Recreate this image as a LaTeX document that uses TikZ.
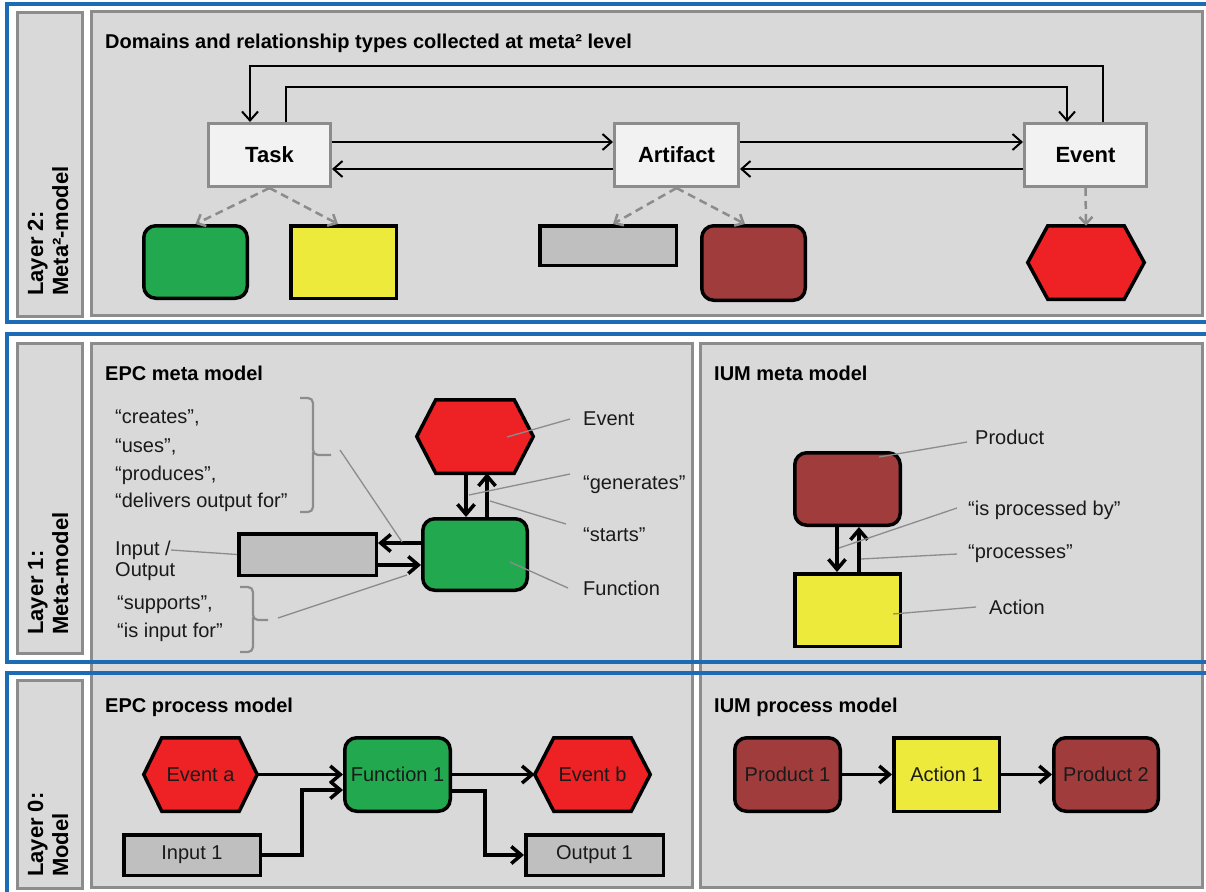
\documentclass[tikz,border=0pt]{standalone}
\usepackage{fontspec}
\setmainfont{Liberation Sans}
\usetikzlibrary{arrows.meta,calc}
\definecolor{panel}{HTML}{D9D9D9}
\definecolor{pborder}{HTML}{8C8C8C}
\definecolor{blueF}{HTML}{1E6BB5}
\definecolor{metaF}{HTML}{F2F2F2}
\definecolor{grnF}{HTML}{22A84F}
\definecolor{yelF}{HTML}{EEEA3C}
\definecolor{gryF}{HTML}{BFBFBF}
\definecolor{brnF}{HTML}{A03C3C}
\definecolor{redF}{HTML}{EE2124}
\definecolor{txt}{HTML}{1A1A1A}
\tikzset{
 lbl/.style={font=\fontsize{20}{24}\selectfont, text=txt, inner sep=0},
 lblw/.style={lbl, anchor=west},
 ttl/.style={font=\fontsize{20}{24}\selectfont\bfseries, text=black, inner sep=0, anchor=west},
 lay/.style={font=\fontsize{22}{25}\selectfont\bfseries, text=black, rotate=90, anchor=base west, inner sep=0},
 panelst/.style={fill=panel, draw=pborder, line width=3},
 bluest/.style={draw=blueF, line width=3.5},
 metabox/.style={draw=pborder, fill=metaF, line width=3, minimum width=122, minimum height=63, font=\fontsize{22}{26}\selectfont\bfseries, inner sep=0},
 shp/.style={draw=black, line width=3.5, inner sep=0, font=\fontsize{20}{24}\selectfont, text=txt},
 fnbox/.style={shp, fill=grnF, rounded corners=12},
 acbox/.style={shp, fill=yelF},
 iobox/.style={shp, fill=gryF},
 prbox/.style={shp, fill=brnF, rounded corners=12},
 hexd/.style={draw=black, line width=3.5, fill=redF, line join=miter},
 tarr/.style={draw=black, line width=2, -{Straight Barb[length=9pt,width=16pt]}},
 karr/.style={draw=black, line width=3.5, -{Straight Barb[length=10pt,width=17pt]}},
 dsh/.style={draw=pborder, line width=2.5, dash pattern=on 8pt off 5pt, -{Straight Barb[length=7pt,width=13pt]}},
 leader/.style={draw=pborder, line width=1.3},
 bracest/.style={draw=pborder, line width=2.2, rounded corners=5},
}
\newcommand\myhex[7]{%
 \node[minimum width=#4, minimum height=#5, inner sep=0, outer sep=0] (#1) at (#2,#3) {};
 \draw[hexd] (#1.west) -- ([xshift=#6pt]#1.north west) -- ([xshift=-#6pt]#1.north east) -- (#1.east) -- ([xshift=-#6pt]#1.south east) -- ([xshift=#6pt]#1.south west) -- cycle;
 \node[lbl] (#1t) at (#1.center) {#7};
}
\begin{document}
\begin{tikzpicture}[x=1pt,y=-1pt]
\useasboundingbox (0,0) rectangle (1206,891);
\clip (0,0) rectangle (1206,891);
\fill[white] (0,0) rectangle (1206,891);

% panels
\draw[panelst] (17,13) rectangle (82,316);
\draw[panelst] (17,343) rectangle (82,653);
\draw[panelst] (17,680) rectangle (82,888);
\draw[panelst] (91,12) rectangle (1202,315);
\draw[panelst] (91,343) rectangle (692,887);
\draw[panelst] (700,343) rectangle (1202,887);

% blue frames
\draw[bluest] (7,4) rectangle (1216,322);
\draw[bluest] (7,334) rectangle (1216,662);
\draw[bluest] (7,673) rectangle (1216,905);

% layer labels
\node[lay] (l2a) at (43,296) {Layer 2:};
\node[lay] (l2b) at (68,296) {Meta²-model};
\node[lay] (l1a) at (43,635) {Layer 1:};
\node[lay] (l1b) at (68,635) {Meta-model};
\node[lay] (l0a) at (43,877) {Layer 0:};
\node[lay] (l0b) at (68,877) {Model};

% ===== Layer 2 =====
\node[ttl] (t2) at (105,43) {Domains and relationship types collected at meta² level};
\node[metabox] (task) at (269.5,155) {Task};
\node[metabox, minimum width=124] (art) at (676.5,155) {Artifact};
\node[metabox] (evt) at (1085.5,155) {Event};

\coordinate (top1) at (250,66);
\coordinate (top2) at (1067,87);
\draw[tarr] ([xshift=17.5pt]evt.north) |- (top1) -- ([xshift=-19.5pt]task.north);
\draw[tarr] ([xshift=16.5pt]task.north) |- (top2) -- ([xshift=-18.5pt]evt.north);
\draw[tarr] ([yshift=13pt]task.east) -- ([yshift=13pt]art.west);
\draw[tarr] ([yshift=-14pt]art.west) -- ([yshift=-14pt]task.east);
\draw[tarr] ([yshift=13pt]art.east) -- ([yshift=13pt]evt.west);
\draw[tarr] ([yshift=-14pt]evt.west) -- ([yshift=-14pt]art.east);

\node[fnbox, minimum width=103.5, minimum height=72.5] (g2) at (195.5,262) {};
\node[acbox, minimum width=105.5, minimum height=72.5] (y2) at (343.5,262) {};
\node[iobox, minimum width=136.5, minimum height=39.5] (gr2) at (608,245.5) {};
\node[prbox, minimum width=103.5, minimum height=74.5] (br2) at (753.5,263) {};
\myhex{h2}{1086}{262.5}{116.5}{73.5}{20}{}

\draw[dsh] (task.south) -- (g2.north);
\draw[dsh] (task.south) -- ([xshift=-5.5pt]y2.north);
\draw[dsh] (art.south) -- ([xshift=5pt]gr2.north);
\draw[dsh] (art.south) -- ([xshift=-8.5pt]br2.north);
\draw[dsh] (evt.south) -- (h2.north);

% ===== Layer 1: EPC meta model =====
\node[ttl] (t1a) at (105,373) {EPC meta model};
\node[lblw] (q1) at (115,418) {“creates”,};
\node[lblw] (q2) at (115,447) {“uses”,};
\node[lblw] (q3) at (115,475) {“produces”,};
\node[lblw] (q4) at (115,502) {“delivers output for”};
\node[lblw] (lIn) at (115,550) {Input /};
\node[lblw] (lOut) at (115,572) {Output};
\node[lblw] (q5) at (117,605) {“supports”,};
\node[lblw] (q6) at (117,632) {“is input for”};

\draw[bracest] (300,398) -- (313,398) -- (313,455) -- (331,455);
\draw[bracest] (313,452) -- (313,512) -- (300,512);
\draw[bracest] (240,587) -- (253,587) -- (253,620) -- (268,620);
\draw[bracest] (253,617) -- (253,652) -- (240,652);

\myhex{ev1}{475}{436.5}{116.5}{73.5}{19}{}
\node[fnbox, minimum width=104.5, minimum height=71.5] (fn) at (475,554.5) {};
\node[iobox, minimum width=137.5, minimum height=41.5] (io) at (307.5,554.5) {};

\draw[karr] ([xshift=-9pt]ev1.south) -- ([xshift=-9pt]fn.north);
\draw[karr] ([xshift=12pt]fn.north) -- ([xshift=12pt]ev1.south);
\draw[karr] ([yshift=11.5pt]fn.west) -- ([yshift=11.5pt]io.east);
\draw[karr] ([yshift=-10.5pt]io.east) -- ([yshift=-10.5pt]fn.west);

\node[lblw] (lEv) at (583,419) {Event};
\node[lblw] (lGen) at (583,485) {“generates”};
\node[lblw] (lSt) at (583,535) {“starts”};
\node[lblw] (lFn) at (583,588) {Function};

\coordinate (b1s) at (340,450);
\coordinate (b1e) at (402,542);
\coordinate (b2s) at (278,618);
\coordinate (b2e) at (407,575);
\coordinate (cEv) at (507,437);
\coordinate (cGen) at (469,495);
\coordinate (cSt) at (490,501);
\coordinate (cFn) at (510,562);
\draw[leader] (b1s) -- (b1e);
\draw[leader] (b2s) -- (b2e);
\draw[leader] (lIn.east) -- (io.west);
\draw[leader] ([xshift=-13pt]lEv.west) -- (cEv);
\draw[leader] ([xshift=-13pt,yshift=11pt]lGen.west) -- (cGen);
\draw[leader] ([xshift=-17pt,yshift=11pt]lSt.west) -- (cSt);
\draw[leader] ([xshift=-15pt]lFn.west) -- (cFn);

% ===== Layer 1: IUM meta model =====
\node[ttl] (t1b) at (714,373) {IUM meta model};
\node[prbox, minimum width=105.5, minimum height=72.5] (pr) at (847.5,489) {};
\node[acbox, minimum width=105.5, minimum height=72.5] (ac) at (847.5,610) {};
\draw[karr] ([xshift=-10.5pt]pr.south) -- ([xshift=-10.5pt]ac.north);
\draw[karr] ([xshift=11.5pt]ac.north) -- ([xshift=11.5pt]pr.south);

\node[lblw] (lPr) at (975,437) {Product};
\node[lblw] (lIpb) at (968,510) {“is processed by”};
\node[lblw] (lPcs) at (968,554) {“processes”};
\node[lblw] (lAc) at (989,607) {Action};
\coordinate (cPr) at (879,457);
\coordinate (cIpb) at (839,548);
\coordinate (cPcs) at (861,559);
\coordinate (cAc) at (893,614);
\draw[leader] ([xshift=-8pt,yshift=-5pt]lPr.west) -- (cPr);
\draw[leader] ([xshift=-11pt,yshift=2pt]lIpb.west) -- (cIpb);
\draw[leader] ([xshift=-11pt]lPcs.west) -- (cPcs);
\draw[leader] ([xshift=-13pt]lAc.west) -- (cAc);

% ===== Layer 0: EPC process model =====
\node[ttl] (t0a) at (105,707) {EPC process model};
\myhex{ea}{200.5}{774.5}{113.5}{73.5}{18}{Event a}
\node[fnbox, minimum width=105.5, minimum height=73.5] (f1) at (397.5,774.5) {Function 1};
\myhex{eb}{592.5}{774.5}{115.5}{73.5}{19}{Event b}
\node[iobox, minimum width=136.5, minimum height=40.5] (in1) at (192,855) {Input 1};
\node[iobox, minimum width=137.5, minimum height=40.5] (out1) at (594.5,855) {Output 1};

\draw[karr] (ea.east) -- (f1.west);
\draw[karr] (in1.east) -- ++(40,0) |- ([yshift=-15.5pt]f1.west);
\draw[karr] (f1.east) -- (eb.west);
\draw[karr] ([yshift=-16.5pt]f1.east) -- ++(33,0) |- (out1.west);

% ===== Layer 0: IUM process model =====
\node[ttl] (t0b) at (714,707) {IUM process model};
\node[prbox, minimum width=105.5, minimum height=73.5] (p1) at (787.5,774.5) {Product 1};
\node[acbox, minimum width=105.5, minimum height=73.5] (a1) at (946.5,774.5) {Action 1};
\node[prbox, minimum width=104.5, minimum height=73.5] (p2) at (1106,774.5) {Product 2};
\draw[karr] (p1.east) -- (a1.west);
\draw[karr] (a1.east) -- (p2.west);
\end{tikzpicture}
\end{document}
